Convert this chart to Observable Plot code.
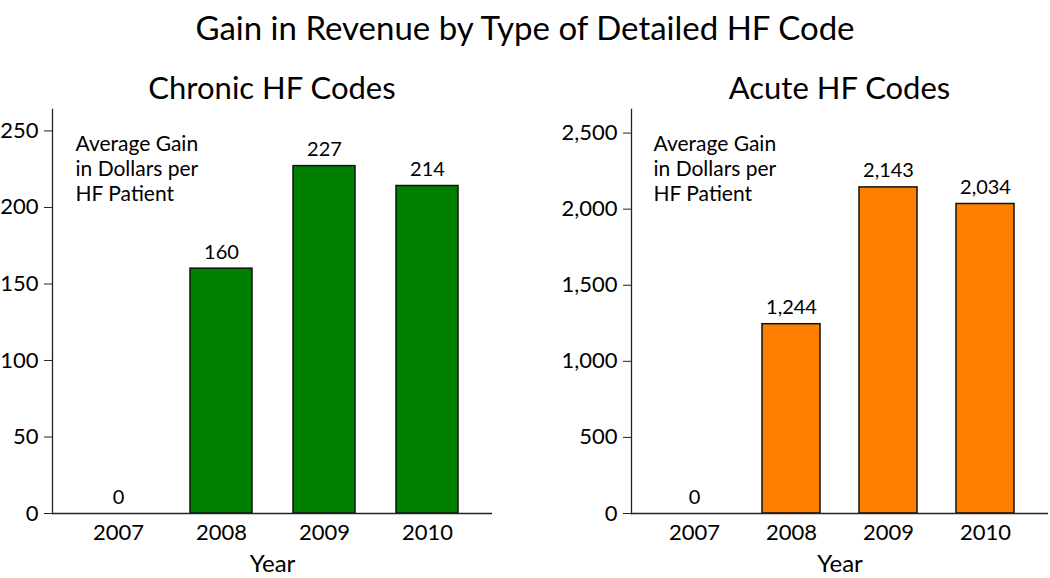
<!DOCTYPE html>
<html><head><meta charset="utf-8">
<script src="https://cdn.jsdelivr.net/npm/d3@7"></script>
<script src="https://cdn.jsdelivr.net/npm/@observablehq/plot@0.6"></script>
<style>
body{margin:0;background:#fff;font-family:Lato,sans-serif;}
#c{position:relative;width:1050px;height:578px;overflow:hidden;background:#fff}
.t{position:absolute;text-align:center;color:#000;white-space:nowrap;line-height:1.3}
</style></head><body><div id="c"></div>
<script>
const years = ["2007", "2008", "2009", "2010"];
const chronicGain = [0, 160, 227, 214];
const acuteGain = [0, 1244, 2143, 2034];
const chronicTicks = [0, 50, 100, 150, 200, 250];
const acuteTicks = [0, 500, 1000, 1500, 2000, 2500];
const mainTitle = "Gain in Revenue by Type of Detailed HF Code";
const panelTitles = ["Chronic HF Codes", "Acute HF Codes"];
const noteText = "Average Gain\nin Dollars per\nHF Patient";
const xLabel = "Year";

const fmt = d3.format(",");
const c = document.getElementById("c");

function addText(txt, left, width, top, size) {
  const d = document.createElement("div");
  d.className = "t";
  d.textContent = txt;
  d.style.left = left + "px";
  d.style.width = width + "px";
  d.style.top = top + "px";
  d.style.fontSize = size + "px";
  c.appendChild(d);
}

function panel(values, ticks, ymax, color, left, width, mL, mR, noteDx) {
  const data = years.map((y, i) => ({year: y, value: values[i]}));
  const p = Plot.plot({
    width, height: 470,
    marginTop: 9, marginBottom: 57, marginLeft: mL, marginRight: mR,
    style: {fontFamily: "Lato, sans-serif", fontSize: "22px", color: "#000", background: "transparent", overflow: "visible"},
    x: {domain: years, paddingInner: 0.4, paddingOuter: 0.33, label: null},
    y: {domain: [0, ymax], label: null},
    marks: [
      Plot.barY(data, {x: "year", y: "value", fill: color, stroke: "#111", strokeWidth: 1.5}),
      Plot.text(data, {x: "year", y: "value", text: d => fmt(d.value), dy: -10, lineAnchor: "bottom", fontSize: 20, fill: "#000"}),
      Plot.text([noteText], {frameAnchor: "top-left", dx: noteDx, dy: 24, lineAnchor: "top", textAnchor: "start", fontSize: 21, lineHeight: 1.19, fill: "#000"}),
      Plot.axisY({ticks, tickFormat: fmt, tickSize: 8, tickPadding: 6, fontSize: 22, label: null, stroke: "#222"}),
      Plot.axisX({tickSize: 0, tickPadding: 11, fontSize: 22, label: null}),
      Plot.text([xLabel], {frameAnchor: "bottom", dy: 51, lineAnchor: "middle", fontSize: 24, fill: "#000"}),
      Plot.ruleY([0], {stroke: "#222", strokeWidth: 1.3}),
      Plot.frame({anchor: "left", stroke: "#222", strokeWidth: 1.3})
    ]
  });
  p.style.position = "absolute";
  p.style.left = left + "px";
  p.style.top = "100px";
  c.appendChild(p);
}

addText(mainTitle, 0, 1050, 6, 33);
addText(panelTitles[0], 52, 440, 67, 31);
addText(panelTitles[1], 631, 417, 67, 31);
panel(chronicGain, chronicTicks, 264, "#008000", 0, 525, 52, 33, 23);
panel(acuteGain, acuteTicks, 2655, "#ff8000", 525, 525, 106, 2, 22);
</script></body></html>
